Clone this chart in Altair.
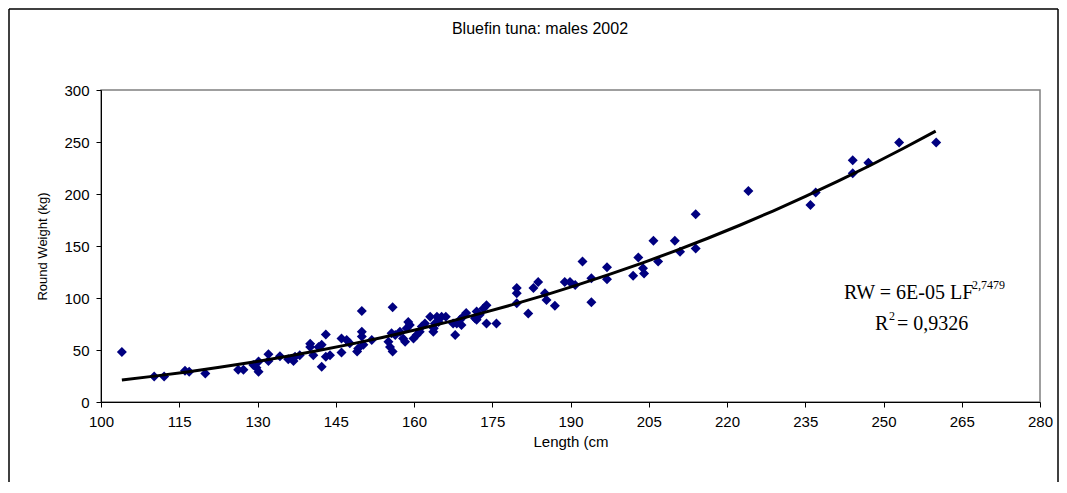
import altair as alt
import pandas as pd

# ---- data ----
length_cm = [
    104.0, 110.2, 112.1, 116.1, 116.9, 120.0, 126.3, 127.3, 129.2, 129.8,
    130.2, 130.2, 132.1, 132.1, 134.3, 135.9, 136.9, 137.2, 138.1, 140.1,
    140.1, 140.7, 141.7, 142.3, 142.3, 143.1, 143.1, 143.9, 146.1, 146.1,
    147.1, 147.7, 149.1, 149.3, 150.0, 150.0, 150.0, 150.3, 151.9, 155.1,
    155.4, 155.9, 155.9, 155.7, 156.4, 157.3, 157.9, 158.3, 158.6, 158.9,
    159.2, 159.9, 160.5, 161.1, 161.5, 162.1, 163.1, 163.7, 163.8, 164.0,
    164.4, 164.7, 165.3, 166.1, 167.5, 167.9, 168.2, 168.8, 169.1, 169.4,
    170.0, 171.7, 172.0, 172.0, 172.6, 173.3, 173.9, 173.9, 175.8, 179.7,
    179.7, 179.7, 181.9, 182.9, 183.8, 185.1, 185.4, 187.0, 188.9, 189.9,
    190.9, 192.3, 194.0, 194.0, 197.0, 197.0, 202.0, 203.0, 203.9, 204.1,
    205.9, 206.8, 210.0, 211.0, 214.0, 214.0, 224.1, 236.0, 237.0, 244.1,
    244.1, 247.1, 253.0, 260.1,
]
weight_kg = [
    48.0, 24.5, 24.5, 30.0, 29.0, 27.5, 31.0, 31.0, 35.5, 33.0,
    29.0, 39.0, 46.0, 39.5, 44.0, 41.0, 39.5, 43.5, 45.0, 56.0,
    53.0, 45.0, 53.0, 55.0, 34.0, 65.0, 43.5, 45.0, 61.0, 47.5,
    59.5, 56.5, 48.5, 51.5, 87.5, 67.5, 63.0, 55.0, 59.5, 58.0,
    53.0, 48.5, 91.0, 66.0, 64.5, 67.5, 61.0, 58.0, 71.0, 77.0,
    74.0, 61.0, 64.5, 67.5, 72.5, 75.5, 82.0, 67.5, 71.0, 75.5,
    82.0, 77.0, 82.0, 82.0, 75.5, 64.5, 75.5, 79.0, 74.0, 82.0,
    85.5, 80.5, 87.0, 79.0, 84.0, 90.0, 93.0, 75.5, 75.5, 109.5,
    104.5, 95.0, 85.0, 109.5, 115.5, 104.5, 98.0, 92.5, 115.5, 115.5,
    112.5, 135.0, 119.0, 96.0, 129.5, 118.0, 121.5, 139.0, 128.5, 123.5,
    155.0, 135.0, 155.0, 144.5, 147.5, 180.5, 203.0, 189.5, 201.5, 232.5,
    220.0, 230.0, 249.5, 249.5,
]

x_ticks = [100, 115, 130, 145, 160, 175, 190, 205, 220, 235, 250, 265, 280]
y_ticks = [0, 50, 100, 150, 200, 250, 300]

chart_title = "Bluefin tuna: males 2002"
x_title = "Length (cm"
y_title = "Round Weight (kg)"
eq_main = "RW = 6E-05 LF"
eq_exp = "2,7479"
r2_main = "R"
r2_sup = "2"
r2_rest = " = 0,9326"
fit_extent = [104, 260]

df = pd.DataFrame({"Length": length_cm, "Weight": weight_kg})
one = pd.DataFrame({"k": [0]})

SANS = "Liberation Sans"
SERIF = "Liberation Serif"

xenc = alt.X(
    "Length:Q",
    scale=alt.Scale(domain=[100, 280], nice=False, zero=False),
    axis=alt.Axis(values=x_ticks, title=x_title, grid=False, labelFlush=False,
                  titlePadding=5),
)
yenc = alt.Y(
    "Weight:Q",
    scale=alt.Scale(domain=[0, 300], nice=False),
    axis=alt.Axis(values=y_ticks, title=y_title, grid=False, titlePadding=14),
)

points = alt.Chart(df).mark_point(
    shape="diamond", filled=True, size=100, color="#000080", opacity=1
).encode(x=xenc, y=yenc)

trend = alt.Chart(df).transform_regression(
    "Length", "Weight", method="pow", extent=fit_extent
).mark_line(color="black", strokeWidth=3).encode(x=xenc, y=yenc)

# outer frame
frame_left = alt.Chart(one).mark_rule(color="black", strokeWidth=1.5).encode(
    x=alt.value(-92), y=alt.value(-81), y2=alt.value(392))
frame_top = alt.Chart(one).mark_rule(color="black", strokeWidth=1.5).encode(
    x=alt.value(-92), x2=alt.value(957), y=alt.value(-81))
frame_right = alt.Chart(one).mark_rule(color="black", strokeWidth=1.5).encode(
    x=alt.value(957), y=alt.value(-81), y2=alt.value(392))

title_mark = alt.Chart(one).mark_text(
    font=SANS, fontSize=16, color="black", align="center", baseline="middle"
).encode(x=alt.value(439), y=alt.value(-61), text=alt.value(chart_title))

eq1 = alt.Chart(one).mark_text(
    font=SERIF, fontSize=20, color="black", align="left", baseline="alphabetic"
).encode(x=alt.value(743), y=alt.value(209), text=alt.value(eq_main))
eq1s = alt.Chart(one).mark_text(
    font=SERIF, fontSize=12, color="black", align="left", baseline="alphabetic"
).encode(x=alt.value(871), y=alt.value(199), text=alt.value(eq_exp))
eq2 = alt.Chart(one).mark_text(
    font=SERIF, fontSize=20, color="black", align="left", baseline="alphabetic"
).encode(x=alt.value(774), y=alt.value(240), text=alt.value(r2_main))
eq2s = alt.Chart(one).mark_text(
    font=SERIF, fontSize=12, color="black", align="left", baseline="alphabetic"
).encode(x=alt.value(788), y=alt.value(230), text=alt.value(r2_sup))
eq2r = alt.Chart(one).mark_text(
    font=SERIF, fontSize=20, color="black", align="left", baseline="alphabetic"
).encode(x=alt.value(796), y=alt.value(240), text=alt.value(r2_rest))

chart = alt.layer(
    frame_left, frame_top, frame_right, points, trend, title_mark,
    eq1, eq1s, eq2, eq2s, eq2r,
).properties(
    width=939, height=312,
    padding={"left": 93, "top": 82, "right": 19, "bottom": 80},
    autosize=alt.AutoSizeParams(type="none"),
    background="white",
).configure_view(
    stroke="#808080", strokeWidth=1.5
).configure_axis(
    domainColor="black", domainWidth=1, tickColor="black", tickSize=5,
    tickWidth=1, labelFont=SANS, labelFontSize=15, labelColor="black",
    labelPadding=7, titleFont=SANS, titleFontSize=15, titleColor="black",
    titleFontWeight="normal",
).configure_axisY(
    titleFontSize=13
)

chart.save("out.html", embed_options={"renderer": "svg", "actions": False})
